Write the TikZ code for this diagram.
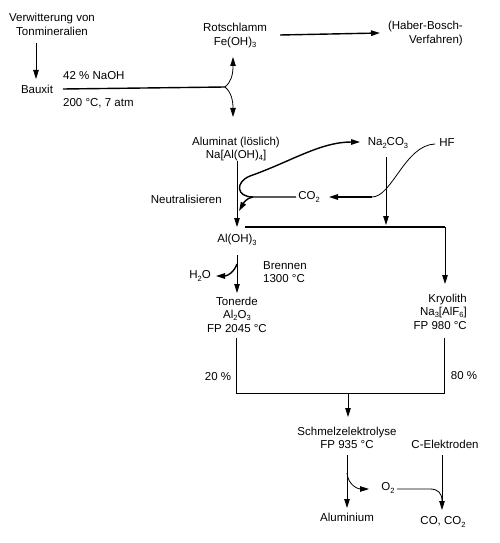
\documentclass[tikz,border=0pt]{standalone}
\usepackage{fontspec}
\setmainfont{Liberation Sans}
\usetikzlibrary{arrows.meta,calc}
\newcommand\chsub[1]{\raisebox{-0.35ex}{\fontsize{7.5bp}{8bp}\selectfont #1}}
\begin{document}
\begin{tikzpicture}[x=1bp,y=-1bp,
  lbl/.style={font=\fontsize{11.5bp}{13.5bp}\selectfont, inner sep=0pt, align=center},
  arr/.style={-{Triangle[length=9bp,width=5.5bp]}},
  ln/.style={line width=0.8bp},
  thk/.style={line width=1.4bp}]
\useasboundingbox (0,0) rectangle (500,543);
% texts
\node[lbl] (verw) at (52,24.5) {Verwitterung von\\Tonmineralien};
\node[lbl] (bauxit) at (37,89) {Bauxit};
\node[lbl,anchor=west] (naoh) at (63,76) {42 \% NaOH};
\node[lbl,anchor=west] (cond) at (63,103) {200 °C, 7 atm};
\node[lbl] (rot) at (235,35.5) {Rotschlamm\\Fe(OH)\chsub{3}};
\node[lbl,anchor=east,align=right] (haber) at (463,33.5) {(Haber-Bosch-\\Verfahren)};
\node[lbl] (alum) at (236,149) {Aluminat (löslich)\\Na[Al(OH)\chsub{4}]};
\node[lbl,anchor=east] (neutr) at (222,199) {Neutralisieren};
\node[lbl] (na2co3) at (388,143) {Na\chsub{2}CO\chsub{3}};
\node[lbl] (hf) at (447,143) {HF};
\node[lbl] (co2) at (309,197) {CO\chsub{2}};
\node[lbl] (aloh) at (237,240) {Al(OH)\chsub{3}};
\node[lbl] (h2o) at (200,276) {H\chsub{2}O};
\node[lbl,anchor=west,align=left] (brennen) at (263,272) {Brennen\\1300 °C};
\node[lbl] (toner) at (237,314.5) {Tonerde\\Al\chsub{2}O\chsub{3}\\FP 2045 °C};
\node[lbl,anchor=east,align=right] (kryo) at (467,311.5) {Kryolith\\Na\chsub{3}[AlF\chsub{6}]\\FP 980 °C};
\node[lbl] (p20) at (218,377) {20 \%};
\node[lbl] (p80) at (464,376) {80 \%};
\node[lbl] (schmelz) at (347,438) {Schmelzelektrolyse\\FP 935 °C};
\node[lbl] (celek) at (445,444) {C-Elektroden};
\node[lbl] (o2) at (388,488) {O\chsub{2}};
\node[lbl] (alu) at (347,517) {Aluminium};
\node[lbl] (coco) at (443,522) {CO, CO\chsub{2}};
% coordinates
\coordinate (c1s) at (36,43);
\coordinate (c1e) at (36,79);
\coordinate (mainS) at (63,89);
\coordinate (j1) at (225,87);
\coordinate (upE) at (233,57);
\coordinate (dnE) at (233,117);
\coordinate (habS) at (280,35);
\coordinate (habE) at (380,33);
\coordinate (alS) at (237,161);
\coordinate (alE) at (237,227);
\coordinate (j2) at (253,197);
\coordinate (loopE) at (360,142);
\coordinate (alArr) at (239,211);
\coordinate (hfS) at (435,144);
\coordinate (hfB) at (372,197);
\coordinate (co2E) at (329,197);
\coordinate (co2W) at (296,197);
\coordinate (naS) at (386,157);
\coordinate (naE) at (386,225);
\coordinate (hL) at (245,227);
\coordinate (hR) at (445,227);
\coordinate (kryE) at (445,284);
\coordinate (ohS) at (237,255);
\coordinate (ohE) at (237,293);
\coordinate (h2oB) at (237,264);
\coordinate (h2oE) at (216,276);
\coordinate (tlS) at (236,338);
\coordinate (tlB) at (236,393);
\coordinate (krS) at (444,338);
\coordinate (krB) at (444,393);
\coordinate (mid) at (348,393);
\coordinate (midE) at (348,417);
\coordinate (scS) at (347,455);
\coordinate (scE) at (347,508);
\coordinate (scB) at (347,473);
\coordinate (o2E) at (369,489);
\coordinate (o2S) at (397,489);
\coordinate (o2K) at (430,489);
\coordinate (ceS) at (442,455);
\coordinate (ceJ) at (442,501);
\coordinate (ceE) at (442,510);
% connectors
\draw[ln,arr] (c1s) -- (c1e);
\draw[thk] (mainS) -- (j1);
\draw[ln,arr] (j1) .. controls (231,82) and (233,75) .. (upE);
\draw[ln,arr] (j1) .. controls (231,92) and (233,100) .. (dnE);
\draw[thk,arr] (habS) -- (habE);
\draw[ln,arr] (alS) -- (alE);
\draw[thk,arr] (j2) .. controls (236,197) and (235,182) .. (250,176)
   .. controls (290,162) and (320,142) .. (loopE);
\draw[thk,arr] (co2W) -- (j2) .. controls (246,198) and (243,204) .. (alArr);
\draw[ln] (hfS) .. controls (405,145) and (392,197) .. (hfB);
\draw[thk,arr] (hfB) -- (co2E);
\draw[ln,arr] (naS) -- (naE);
\draw[thk] (hL) -- (hR);
\draw[ln,arr] (hR) -- (kryE);
\draw[ln,arr] (ohS) -- (ohE);
\draw[thk,arr] (h2oB) .. controls (234,272) and (228,276) .. (h2oE);
\draw[ln] (tlS) -- (tlB) -- (krB) -- (krS);
\draw[ln,arr] (mid) -- (midE);
\draw[ln,arr] (scS) -- (scE);
\draw[ln,arr] (scB) .. controls (348,485) and (358,489) .. (o2E);
\draw[ln] (o2S) -- (o2K) .. controls (438,489) and (442,493) .. (ceJ);
\draw[ln,arr] (ceS) -- (ceE);
\end{tikzpicture}
\end{document}
